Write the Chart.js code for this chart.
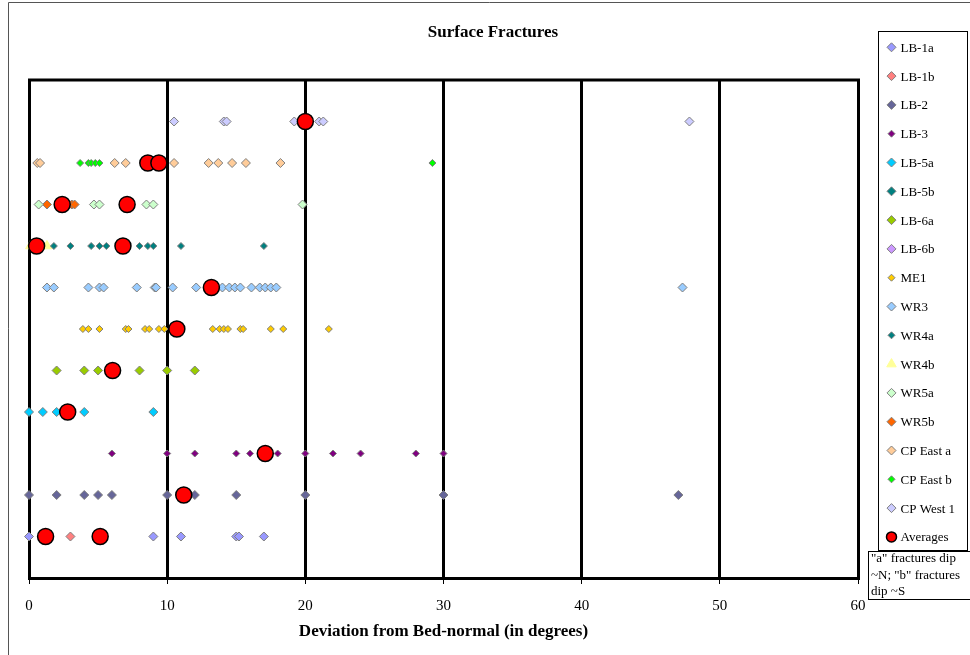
<!DOCTYPE html>
<html>
<head>
<meta charset="utf-8">
<title>Surface Fractures</title>
<script src="https://cdn.jsdelivr.net/npm/chart.js@4.4.1/dist/chart.umd.min.js"></script>
<style>
  html, body { margin: 0; padding: 0; background: #fff; }
  #wrap { position: relative; width: 970px; height: 655px; }
</style>
</head>
<body>
<div id="wrap"><canvas id="fractureChart"></canvas></div>
<script>
// Sample sets, in legend order
const seriesNames = ["LB-1a", "LB-1b", "LB-2", "LB-3", "LB-5a", "LB-5b", "LB-6a", "LB-6b", "ME1",
  "WR3", "WR4a", "WR4b", "WR5a", "WR5b", "CP East a", "CP East b", "CP West 1"];

// Row each set is plotted on (1 = bottom row)
const seriesRows = [1, 1, 2, 3, 4, 4, 5, 5, 6, 7, 8, 8, 9, 9, 10, 10, 11];

// Deviation from bed-normal (degrees) for each fracture
const lb1a = [0, 9, 11, 15, 15.2, 17];
const lb1b = [3];
const lb2 = [0, 2, 4, 5, 6, 10, 12, 15, 20, 30, 47];
const lb3 = [6, 10, 12, 15, 16, 18, 20, 22, 24, 28, 30];
const lb5a = [0, 1, 2, 4, 9];
const lb5b = [];
const lb6a = [2, 4, 5, 8, 10, 12];
const lb6b = [];
const me1 = [3.9, 4.3, 5.1, 7.0, 7.2, 8.4, 8.7, 9.4, 9.8, 13.3, 13.8, 14.1, 14.4, 15.3, 15.5, 17.5, 18.4, 21.7];
const wr3 = [1.3, 1.8, 4.3, 5.1, 5.4, 7.8, 9.1, 9.2, 10.4, 12.1, 14.0, 14.5, 14.9, 15.3, 16.1, 16.7, 17.1, 17.5, 17.9, 47.3];
const wr4a = [1.8, 3.0, 4.5, 5.1, 5.6, 8.0, 8.6, 9.0, 11.0, 17.0];
const wr4b = [0.1, 1.3];
const wr5a = [0.7, 4.7, 5.1, 8.5, 9.0, 19.8];
const wr5b = [1.3, 3.1, 3.3];
const cpEastA = [0.6, 0.8, 6.2, 7.0, 10.5, 13.0, 13.7, 14.7, 15.7, 18.2];
const cpEastB = [3.7, 4.3, 4.5, 4.8, 5.1, 29.2];
const cpWest1 = [10.5, 14.1, 14.3, 19.2, 21.0, 21.3, 47.8];

const seriesValues = [lb1a, lb1b, lb2, lb3, lb5a, lb5b, lb6a, lb6b, me1,
  wr3, wr4a, wr4b, wr5a, wr5b, cpEastA, cpEastB, cpWest1];

// Averages per set
const avgValues = [20.0, 8.6, 9.4, 2.4, 7.1, 0.55, 6.8, 13.2, 10.7, 6.05, 2.8, 17.1, 11.2, 1.2, 5.15];
const avgRows = [11, 10, 10, 9, 9, 8, 8, 7, 6, 5, 4, 3, 2, 1, 1];

// Styles
const fillColors = ["#9999FF", "#FF8080", "#666699", "#800080", "#00CCFF", "#008080", "#99CC00", "#CC99FF",
  "#FFCC00", "#99CCFF", "#008080", "#FFFF99", "#CCFFCC", "#FF6600", "#FFCC99", "#00FF00", "#CCCCFF"];
const markerSizes = [4.5, 4.5, 4.5, 3.5, 4.5, 4.5, 4.5, 4.5, 3.5, 4.5, 3.5, 5.5, 4.5, 4.5, 4.5, 3.5, 4.5];

const serif = "'Liberation Serif', 'Times New Roman', serif";

const datasets = seriesNames.map((name, i) => {
  const isTriangle = name === "WR4b";
  return {
    label: name,
    data: seriesValues[i].map(v => ({ x: v, y: seriesRows[i] })),
    pointStyle: isTriangle ? "triangle" : "rectRot",
    pointRadius: markerSizes[i],
    pointBackgroundColor: fillColors[i],
    pointBorderColor: isTriangle ? fillColors[i] : "#808080",
    pointBorderWidth: 1,
    showLine: false,
    clip: false
  };
});

datasets.push({
  label: "Averages",
  data: avgValues.map((v, i) => ({ x: v, y: avgRows[i] })),
  pointStyle: "circle",
  pointRadius: 8,
  pointBackgroundColor: "#FF0000",
  pointBorderColor: "#000000",
  pointBorderWidth: 1.5,
  showLine: false,
  clip: false,
  order: -1
});

// draw a legend marker like the dataset's own point
function drawMarker(c, ds, x, y, r) {
  c.save();
  c.fillStyle = ds.pointBackgroundColor;
  c.strokeStyle = ds.pointBorderColor;
  c.lineWidth = ds.pointBorderWidth;
  if (Chart.helpers && Chart.helpers.drawPoint) {
    Chart.helpers.drawPoint(c, { pointStyle: ds.pointStyle, radius: r, borderWidth: ds.pointBorderWidth, rotation: 0 }, x, y);
  }
  c.restore();
}

const decorations = {
  id: "decorations",
  beforeDraw(chart) {
    const c = chart.ctx;
    c.save();
    c.fillStyle = "#fff";
    c.fillRect(0, 0, chart.width, chart.height);
    // outer frame
    c.strokeStyle = "#555";
    c.lineWidth = 1;
    c.beginPath();
    c.moveTo(8.5, chart.height);
    c.lineTo(8.5, 2.5);
    c.lineTo(chart.width, 2.5);
    c.stroke();
    c.restore();
  },
  afterDraw(chart) {
    const c = chart.ctx;
    const area = chart.chartArea;
    c.save();

    // top border of plot area
    c.strokeStyle = "#000";
    c.lineWidth = 3;
    c.beginPath();
    c.moveTo(area.left - 1, area.top);
    c.lineTo(area.right + 2, area.top);
    c.stroke();

    // title
    c.fillStyle = "#000";
    c.font = "bold 17px " + serif;
    c.textAlign = "center";
    c.textBaseline = "middle";
    c.fillText("Surface Fractures", 493, 33);

    // legend box
    c.lineWidth = 1;
    c.strokeStyle = "#000";
    c.strokeRect(878.5, 31.5, 89, 519);

    c.font = "13px " + serif;
    c.textAlign = "left";
    chart.data.datasets.forEach((ds, i) => {
      const y = 47.3 + i * 28.8;
      const r = ds.label === "Averages" ? 5 : ds.pointRadius;
      drawMarker(c, ds, 891.5, y, r);
      c.fillStyle = "#000";
      c.fillText(ds.label, 900.5, y + 1);
    });

    // note box
    c.strokeRect(868.5, 551.5, 105, 48);
    c.fillStyle = "#000";
    c.fillText("\"a\" fractures dip", 871, 559);
    c.fillText("~N; \"b\" fractures", 871, 576);
    c.fillText("dip ~S", 871, 592);

    c.restore();
  }
};

new Chart(document.getElementById("fractureChart"), {
  type: "scatter",
  data: { datasets: datasets },
  options: {
    responsive: true,
    maintainAspectRatio: false,
    animation: false,
    layout: { padding: { left: 29, right: 112, top: 80, bottom: 0 } },
    plugins: {
      legend: { display: false },
      title: { display: false },
      tooltip: { enabled: false }
    },
    scales: {
      x: {
        type: "linear",
        min: 0,
        max: 60,
        ticks: {
          stepSize: 10,
          padding: 13,
          color: "#000",
          font: { family: serif, size: 15 }
        },
        grid: {
          color: "#000",
          lineWidth: 3,
          drawTicks: true,
          tickLength: 6,
          tickWidth: 1,
          tickColor: "#000"
        },
        border: { display: true, color: "#000", width: 3 },
        title: {
          display: true,
          text: "Deviation from Bed-normal (in degrees)",
          color: "#000",
          font: { family: serif, size: 17, weight: "bold" },
          padding: { top: 0, bottom: 13 }
        },
        afterFit(scale) { scale.height = 77; }
      },
      y: {
        type: "linear",
        min: 0,
        max: 12,
        display: false
      }
    }
  },
  plugins: [decorations]
});
</script>
</body>
</html>
